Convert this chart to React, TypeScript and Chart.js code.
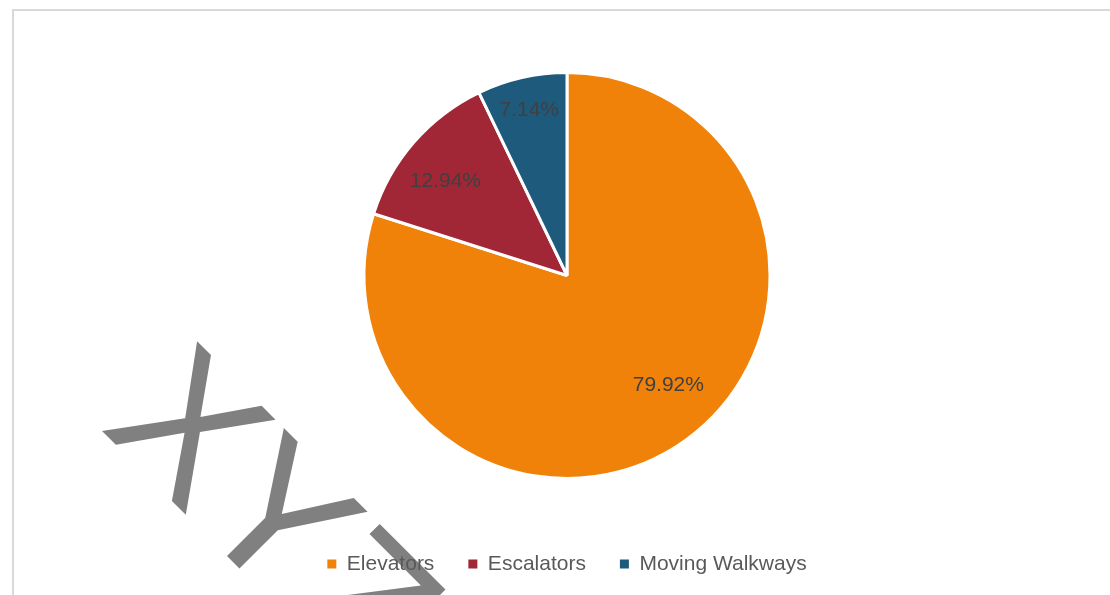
import React, { useEffect, useRef } from "react";
import { Chart, registerables } from "chart.js";

Chart.register(...registerables);

const categories = ["Elevators", "Escalators", "Moving Walkways"];
const shares = [79.92, 12.94, 7.14];
const labelTexts = ["79.92%", "12.94%", "7.14%"];
const sliceColors = ["#F0820A", "#A12636", "#1E5A7C"];
const watermarkText = "XYZ";

const FONT = "'Liberation Sans', Arial, sans-serif";

const labelRadiusFractions = [0.734, 0.757, 0.837];
const labelAngleNudgeDeg = [-6.7, -3.3, 0];

const sliceLabelPlugin = {
  id: "sliceLabels",
  afterDatasetsDraw(chart: any) {
    const ctx = chart.ctx;
    const meta = chart.getDatasetMeta(0);
    ctx.save();
    ctx.font = `21px ${FONT}`;
    ctx.fillStyle = "#404040";
    ctx.textAlign = "center";
    ctx.textBaseline = "middle";
    meta.data.forEach((arc: any, i: number) => {
      const { x, y, startAngle, endAngle, outerRadius } = arc.getProps(
        ["x", "y", "startAngle", "endAngle", "outerRadius"],
        true
      );
      const mid = (startAngle + endAngle) / 2 + (labelAngleNudgeDeg[i] * Math.PI) / 180;
      const r = outerRadius * labelRadiusFractions[i];
      ctx.fillText(labelTexts[i], x + Math.cos(mid) * r, y + Math.sin(mid) * r);
    });
    ctx.restore();
  },
};

const watermarkPlugin = {
  id: "watermark",
  beforeDraw(chart: any) {
    const ctx = chart.ctx;
    ctx.save();
    ctx.translate(99, 428);
    ctx.rotate(Math.PI / 4);
    ctx.font = `190px ${FONT}`;
    ctx.fillStyle = "#808080";
    ctx.textBaseline = "alphabetic";
    ctx.textAlign = "left";
    ctx.fillText(watermarkText, 0, 0);
    ctx.restore();
  },
};

export default function App() {
  const canvasRef = useRef<HTMLCanvasElement | null>(null);

  useEffect(() => {
    if (!canvasRef.current) return;
    const chart = new Chart(canvasRef.current, {
      type: "pie",
      data: {
        labels: categories,
        datasets: [
          {
            data: shares,
            backgroundColor: sliceColors,
            borderColor: "#FFFFFF",
            borderWidth: 3,
            radius: 203,
          },
        ],
      },
      options: {
        responsive: false,
        animation: false,
        devicePixelRatio: 1,
        layout: { padding: { top: 31.5, bottom: 10.5, left: 24, right: 0 } },
        plugins: {
          tooltip: { enabled: false },
          legend: {
            position: "bottom",
            labels: {
              boxWidth: 9,
              boxHeight: 9,
              padding: 34,
              color: "#595959",
              font: { family: FONT, size: 21 },
              generateLabels(chart: any) {
                const items = Chart.overrides.pie.plugins.legend.labels.generateLabels(chart);
                return items.map((it: any) => ({ ...it, lineWidth: 0, strokeStyle: it.fillStyle }));
              },
            },
          },
        },
      },
      plugins: [watermarkPlugin, sliceLabelPlugin],
    } as any);
    return () => chart.destroy();
  }, []);

  return (
    <div
      style={{
        position: "fixed",
        left: 0,
        top: 0,
        width: 1110,
        height: 595,
        overflow: "hidden",
        background: "#FFFFFF",
      }}
    >
      <div
        style={{
          position: "absolute",
          left: 12,
          top: 9,
          width: 1120,
          height: 620,
          border: "2px solid #D9D9D9",
          boxSizing: "border-box",
        }}
      />
      <canvas
        ref={canvasRef}
        width={1110}
        height={595}
        style={{ position: "absolute", left: 0, top: 0, width: 1110, height: 595 }}
      />
    </div>
  );
}
